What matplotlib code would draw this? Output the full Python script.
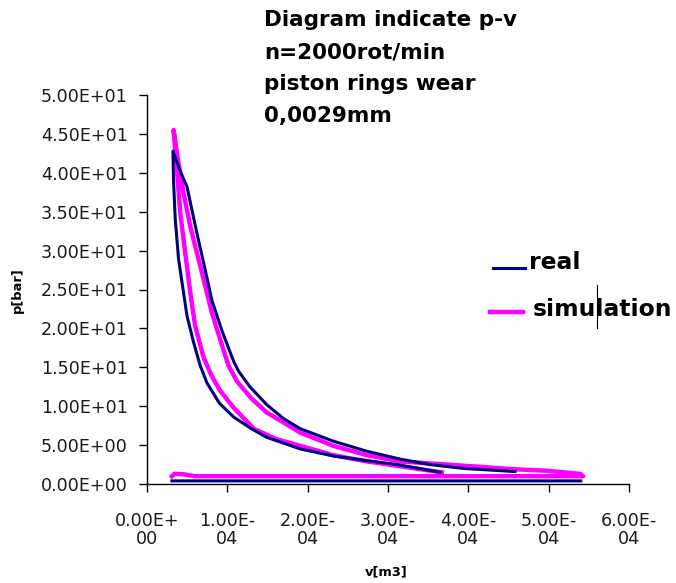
import numpy as np
import matplotlib
matplotlib.use("Agg")
import matplotlib.pyplot as plt
from matplotlib.lines import Line2D

# volumes in 1e-4 m3, pressures in bar
real_comp_v = [3.65, 3.44, 3.11, 2.74, 2.32, 1.91, 1.49, 1.30, 1.08, 0.90, 0.746, 0.663, 0.58, 0.498, 0.455, 0.393, 0.352, 0.331, 0.323]
real_comp_p = [1.5, 1.9, 2.5, 3.0, 3.6, 4.5, 6.0, 7.1, 8.6, 10.4, 13.0, 15.2, 18.2, 21.6, 24.6, 28.9, 34.0, 38.8, 42.8]
real_exp_v = [0.323, 0.40, 0.435, 0.498, 0.56, 0.622, 0.725, 0.808, 0.933, 1.077, 1.14, 1.28, 1.49, 1.70, 1.91, 2.32, 2.74, 3.15, 3.52, 3.94, 4.58]
real_exp_p = [42.8, 40.6, 39.7, 38.2, 35.2, 32.2, 27.5, 23.6, 19.7, 15.8, 14.5, 12.5, 10.2, 8.4, 7.1, 5.5, 4.2, 3.2, 2.5, 2.0, 1.6]
real_base_v = [5.40, 0.31]
real_base_p = [0.4, 0.4]

sim_comp_v = [3.67, 3.40, 3.11, 2.74, 2.32, 1.91, 1.60, 1.33, 1.08, 0.91, 0.80, 0.704, 0.60, 0.539, 0.476, 0.414, 0.373, 0.331]
sim_comp_p = [1.5, 1.9, 2.35, 2.9, 3.7, 4.9, 5.8, 7.1, 9.8, 12.0, 14.0, 16.3, 20.3, 24.6, 29.7, 34.9, 40.4, 45.5]
sim_exp_v = [0.331, 0.393, 0.455, 0.539, 0.622, 0.704, 0.808, 0.91, 1.015, 1.12, 1.30, 1.49, 1.91, 2.32, 2.74, 3.15, 3.73, 4.15, 4.56, 4.98, 5.39]
sim_exp_p = [45.5, 41.2, 37.4, 33.1, 29.7, 26.3, 22.0, 18.6, 15.2, 13.2, 11.0, 9.2, 6.6, 4.9, 3.7, 2.9, 2.5, 2.2, 1.9, 1.7, 1.3]
sim_base_v = [5.43, 0.60, 0.45, 0.34, 0.31]
sim_base_p = [1.0, 1.0, 1.25, 1.3, 1.0]

x_ticks = [0, 1, 2, 3, 4, 5, 6]
x_tick_labels = ["0.00E+\n00", "1.00E-\n04", "2.00E-\n04", "3.00E-\n04", "4.00E-\n04", "5.00E-\n04", "6.00E-\n04"]
y_ticks = [0, 5, 10, 15, 20, 25, 30, 35, 40, 45, 50]
y_tick_labels = ["0.00E+00", "5.00E+00", "1.00E+01", "1.50E+01", "2.00E+01", "2.50E+01",
                 "3.00E+01", "3.50E+01", "4.00E+01", "4.50E+01", "5.00E+01"]

title_lines = ["Diagram indicate p-v", "n=2000rot/min", "piston rings wear", "0,0029mm"]

NAVY = "#000080"
MAGENTA = "#FF00FF"

plt.rcParams['font.family'] = ['DejaVu Sans']

fig = plt.figure(figsize=(6.76, 5.83), dpi=100)
W, H = 676, 583
ax = fig.add_axes([147 / W, 1 - 484 / H, (629 - 147) / W, (484 - 95) / H])

nan = [np.nan]
sim_v = sim_comp_v + sim_exp_v + sim_base_v
sim_p = sim_comp_p + sim_exp_p + sim_base_p
real_v = real_comp_v + real_exp_v + nan + real_base_v
real_p = real_comp_p + real_exp_p + nan + real_base_p

ax.plot(sim_v, sim_p, color=MAGENTA, lw=3.2, solid_joinstyle='round', zorder=2)
ax.plot(real_v, real_p, color=NAVY, lw=2.2, solid_joinstyle='round', zorder=3)

ax.set_xlim(0, 6)
ax.set_ylim(0, 50)
ax.set_xticks(x_ticks)
ax.set_xticklabels(x_tick_labels, multialignment='center', linespacing=1.05)
ax.set_yticks(y_ticks)
ax.set_yticklabels(y_tick_labels)
ax.tick_params(axis='both', direction='out', length=6, width=1, colors='black', labelsize=12.6,
               labelcolor='#1a1a1a')
ax.tick_params(axis='y', pad=8)
ax.tick_params(axis='x', pad=14)
for s in ['top', 'right']:
    ax.spines[s].set_visible(False)
for s in ['left', 'bottom']:
    ax.spines[s].set_linewidth(1)
    ax.spines[s].set_color('black')
ax.spines['bottom'].set_bounds(0, 6)

fig.text(386 / W, 1 - 572 / H, "v[m3]", ha='center', va='center', fontsize=9.4, fontweight='bold')
fig.text(17 / W, 1 - 290 / H, "p[bar]", ha='center', va='center', fontsize=9.4, fontweight='bold',
         rotation=90)

fig.text(264 / W, 1 - 10 / H, "\n".join(title_lines), ha='left', va='top', fontsize=15.5,
         fontweight='bold', linespacing=1.75)

# legend
fig.add_artist(Line2D([493 / W, 525 / W], [1 - 268 / H, 1 - 268 / H], color=NAVY, lw=2.2,
                      transform=fig.transFigure))
fig.text(529 / W, 1 - 262 / H, "real", ha='left', va='center', fontsize=16.9, fontweight='bold')
fig.add_artist(Line2D([490 / W, 523 / W], [1 - 312 / H, 1 - 312 / H], color=MAGENTA, lw=3.2,
                      transform=fig.transFigure))
fig.text(533 / W, 1 - 309 / H, "simulation", ha='left', va='center', fontsize=16.9, fontweight='bold')
fig.add_artist(Line2D([597 / W, 597 / W], [1 - 285 / H, 1 - 328 / H], color='black', lw=0.8,
                      transform=fig.transFigure))

fig.savefig("out.png", dpi=100, facecolor='white')
